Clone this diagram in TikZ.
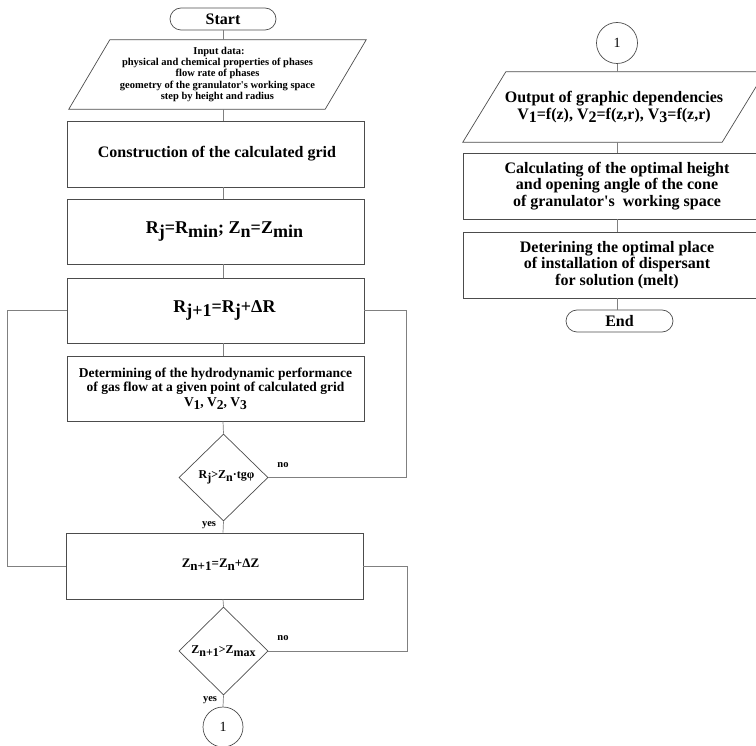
\documentclass[tikz,border=0pt]{standalone}
\usepackage{fontspec}
\setmainfont{Liberation Serif}
\usetikzlibrary{shapes.geometric,calc}
\newcommand\sbx[1]{\raisebox{-0.45ex}{#1}}
\newcommand\fsz[2]{\fontsize{#1}{#2}\selectfont}
\begin{document}
\begin{tikzpicture}[x=1pt,y=-1pt,
  boxline/.style={draw=black!70,line width=0.7pt},
  box/.style={boxline,rectangle,align=center,inner sep=0pt},
  term/.style={box,rounded corners=11pt},
  dec/.style={boxline,diamond,inner sep=0pt,align=center},
  conn/.style={draw=black!50,line width=0.7pt},
  con/.style={boxline,circle,inner sep=0pt,minimum size=41pt,font=\mdseries\fsz{14}{15}},
  lbl/.style={inner sep=0pt,font=\bfseries\fsz{10.5}{12}},
  font=\bfseries]
\useasboundingbox (0,0) rectangle (756,746);
\clip (0,0) rectangle (756,746);
\coordinate (axL) at (223,0);
\coordinate (axR) at (617,0);
\coordinate (lft) at (7,0);
\coordinate (rt1) at (406,0);
\coordinate (rt2) at (407,0);

% left column
\node[term,minimum width=106pt,minimum height=22pt,font=\bfseries\fsz{16}{17}] (start) at (223,19) {Start};
\node[inner sep=0pt,minimum width=297pt,minimum height=69pt,align=center,font=\bfseries\fsz{10.5}{11.4}] (inp) at (217.5,74.5)
  {\hspace*{3pt}Input data:\\ physical and chemical properties of phases\\ flow rate of phases\\ geometry of the granulator\textquotesingle s working space\\ step by height and radius};
\draw[boxline] (inp.south west) -- ($(inp.north west)+(41,0)$) -- (inp.north east) -- ($(inp.south east)+(-41,0)$) -- cycle;
\node[box,minimum width=297pt,minimum height=66pt,font=\bfseries\fsz{16}{17}] (cons) at (215.5,154) {\hspace*{3pt}Construction of the calculated grid};
\node[box,minimum width=297pt,minimum height=65pt,font=\bfseries\fsz{18}{20}] (init) at (215.5,231.5) {\hspace*{18pt}R\sbx{j}=R\sbx{min}; Z\sbx{n}=Z\sbx{min}};
\node[box,minimum width=297pt,minimum height=65pt,font=\bfseries\fsz{18}{20}] (rj) at (215.5,310.5) {\raisebox{4pt}{\hspace*{18pt}R\sbx{j+1}=R\sbx{j}+ΔR}};
\node[box,minimum width=297pt,minimum height=65pt,font=\bfseries\fsz{13.5}{14.5}] (det) at (215.5,388.5)
  {Determining of the hydrodynamic performance\\ of gas flow at a given point of calculated grid\\ V\sbx{1}, V\sbx{2}, V\sbx{3}};
\node[dec,minimum width=89pt,minimum height=87pt,font=\bfseries\fsz{12}{13}] (d1) at (223.5,477.5) {\hspace*{6pt}R\sbx{j}>Z\sbx{n}·tgφ};
\node[box,minimum width=297pt,minimum height=66pt,font=\bfseries\fsz{13}{14}] (zn) at (214.5,566) {\raisebox{5pt}{\hspace*{12pt}Z\sbx{n+1}=Z\sbx{n}+ΔZ}};
\node[dec,minimum width=89pt,minimum height=88pt,font=\bfseries\fsz{12}{13}] (d2) at (223.5,651) {Z\sbx{n+1}>Z\sbx{max}};
\node[con,minimum size=40pt] (c1) at (223,727) {1};

\node[lbl] (no1) at (283,465) {no};
\node[lbl] (yes1) at (209,525) {yes};
\node[lbl] (no2) at (283,638) {no};
\node[lbl] (yes2) at (210,700) {yes};

% right column
\node[con] (c2) at (617,43) {1};
\node[inner sep=0pt,minimum width=302pt,minimum height=70pt,align=center,font=\bfseries\fsz{16}{17}] (out) at (614,107)
  {Output of graphic dependencies\\ V\sbx{1}=f(z), V\sbx{2}=f(z,r), V\sbx{3}=f(z,r)};
\draw[boxline] (out.south west) -- ($(out.north west)+(43,0)$) -- (out.north east) -- ($(out.south east)+(-43,0)$) -- cycle;
\node[box,minimum width=308pt,minimum height=66pt,font=\bfseries\fsz{16}{16.7}] (calc) at (617,186)
  {Calculating of the optimal height\\ and opening angle of the cone\\ of granulator\textquotesingle s\ \ working space};
\node[box,minimum width=308pt,minimum height=66pt,font=\bfseries\fsz{16}{16.7}] (dis) at (617,265)
  {Deterining the optimal place\\ of installation of dispersant\\ for solution (melt)};
\node[term,minimum width=107pt,minimum height=22pt,font=\bfseries\fsz{16}{17}] (end) at (619.5,321) {End};

% connectors left
\draw[conn] (start.south) -- (axL |- inp.north);
\draw[conn] (axL |- inp.south) -- (axL |- cons.north);
\draw[conn] (axL |- cons.south) -- (axL |- init.north);
\draw[conn] (axL |- init.south) -- (axL |- rj.north);
\draw[conn] (axL |- rj.south) -- (axL |- det.north);
\draw[conn] (axL |- det.south) -- (d1.north);
\draw[conn] (d1.south) -- (axL |- zn.north);
\draw[conn] (axL |- zn.south) -- (d2.north);
\draw[conn] (d2.south) -- (c1.north);
\draw[conn] (zn.west) -- (zn.west -| lft) |- (rj.west);
\draw[conn] (d1.east) -- (d1.east -| rt1) |- (rj.east);
\draw[conn] (d2.east) -- (d2.east -| rt2) |- (zn.east);

% connectors right
\draw[conn] (c2.south) -- (axR |- out.north);
\draw[conn] (axR |- out.south) -- (axR |- calc.north);
\draw[conn] (axR |- calc.south) -- (axR |- dis.north);
\draw[conn] (axR |- dis.south) -- (axR |- end.north);
\end{tikzpicture}
\end{document}
